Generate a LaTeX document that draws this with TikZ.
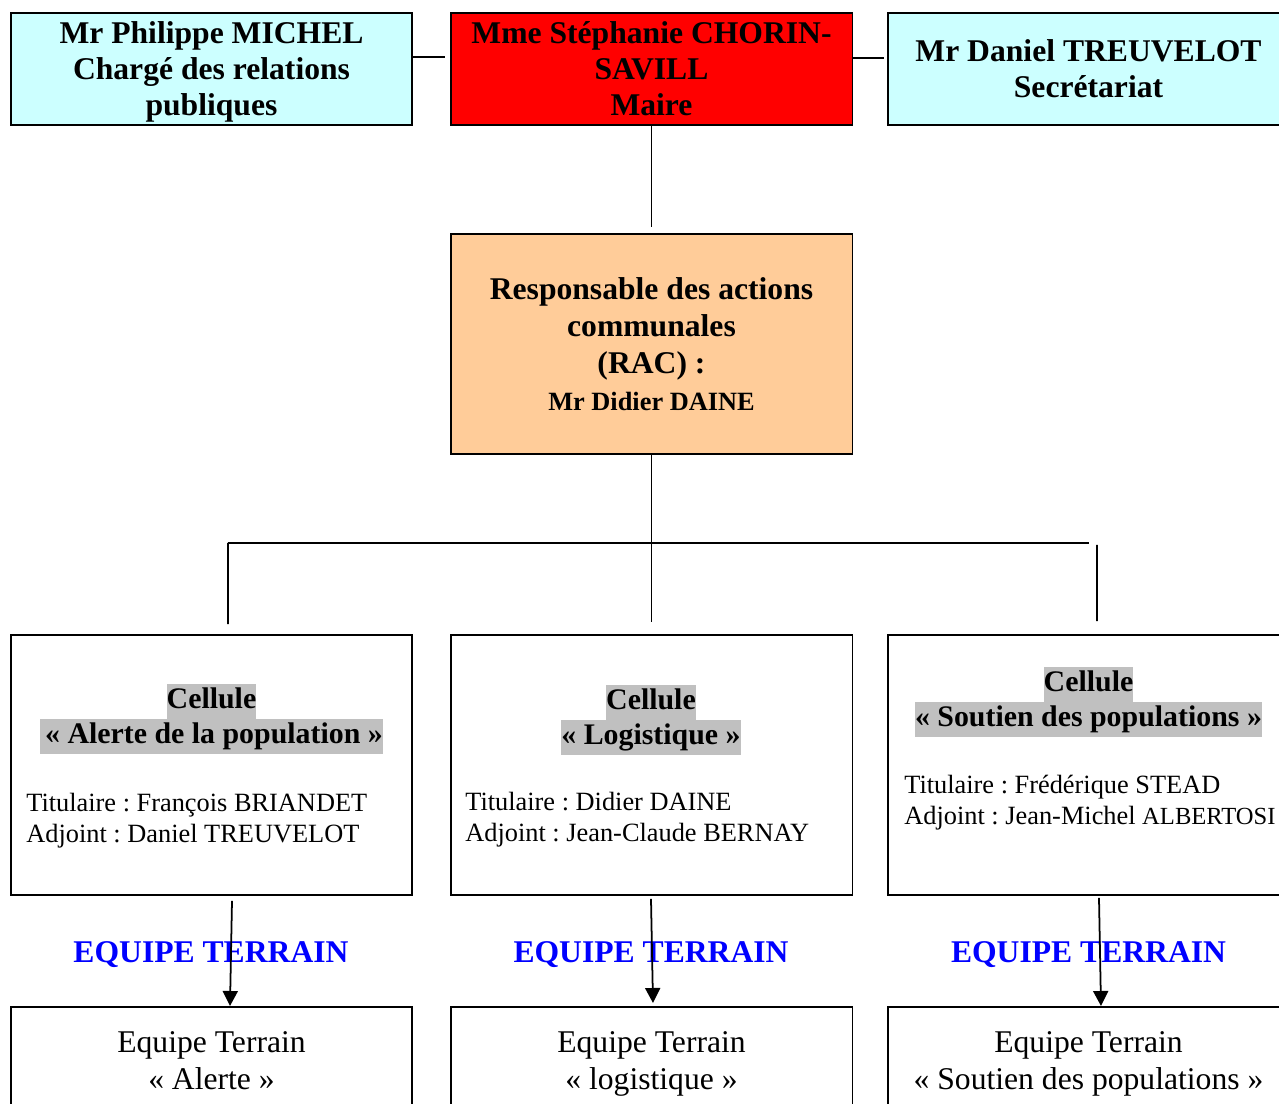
\documentclass[tikz,border=0pt]{standalone}
\usepackage{fontspec}
\setmainfont{Liberation Serif}
\usetikzlibrary{calc,arrows.meta}

\definecolor{cyanbg}{HTML}{CCFFFF}
\definecolor{rougebg}{HTML}{FF0000}
\definecolor{orangebg}{HTML}{FFCC99}
\definecolor{hlgray}{HTML}{C0C0C0}
\definecolor{bleuequipe}{HTML}{0000FF}

\newcommand{\hl}[1]{{\setlength{\fboxsep}{0pt}\colorbox{hlgray}{\strut #1}}}
\frenchspacing

\begin{document}
\begin{tikzpicture}[x=0.02cm,y=-0.02cm,
    box/.style={draw,line width=1.1pt,minimum width=8.04cm,inner sep=0pt},
    topbox/.style={box,minimum height=2.24cm,align=center,text depth=0pt,
      font=\fontsize{18}{20.5}\selectfont\bfseries},
    cellbox/.style={box,minimum height=5.2cm},
    titre/.style={align=center,inner sep=0pt,font=\fontsize{17}{20}\selectfont\bfseries},
    membres/.style={align=left,inner sep=0pt,anchor=west,font=\fontsize{15}{17.6}\selectfont},
    equipe/.style={text=bleuequipe,font=\fontsize{18}{20}\selectfont\bfseries},
    basbox/.style={box,anchor=north,align=center,inner ysep=14pt,
      font=\fontsize{18}{21}\selectfont},
    lien/.style={line width=1pt},
    fleche/.style={line width=1pt,-{Triangle[width=0.3cm,length=0.3cm]}}]
    % Frame of the page
    \useasboundingbox (0,0) rectangle (1279,1104);
    \clip (0,0) rectangle (1279,1104);

    % Top row
    \node[topbox,fill=cyanbg] (michel) at (211.5,69) {Mr Philippe MICHEL\\Chargé des relations\\publiques};
    \node[topbox,fill=rougebg] (maire) at (651.5,69) {Mme Stéphanie CHORIN-\\SAVILL\\Maire};
    \node[topbox,fill=cyanbg] (secr) at (1088.5,69) {Mr Daniel TREUVELOT\\Secrétariat};

    \draw[lien] ($(michel.east)+(0,-12)$) -- ($(maire.west)+(-5,-12)$);
    \draw[lien] ($(maire.east)+(0,-11)$) -- ($(secr.west)+(-3,-11)$);

    % RAC
    \node[box,minimum height=4.4cm,fill=orangebg,align=center,text depth=0pt,
      font=\fontsize{18}{21}\selectfont\bfseries] (rac) at (651.5,344)
      {Responsable des actions\\communales\\(RAC) :\\{\fontsize{15}{17}\selectfont Mr Didier DAINE}};
    \draw[lien] (maire.south) -- ($(rac.north)+(0,-6)$);

    % Cells
    \node[cellbox] (alerte) at (211.5,765) {};
    \node[cellbox] (logi) at (651.5,765) {};
    \node[cellbox] (soutien) at (1088.5,765) {};

    \node[titre] (alerteH) at (211.5,719) {\hl{Cellule}\\\hl{\,« Alerte de la population »}};
    \node[titre] (logiH) at (651,720) {\hl{Cellule}\\\hl{« Logistique »}};
    \node[titre] (soutienH) at (1088.5,702) {\hl{Cellule}\\\hl{« Soutien des populations »}};

    \node[membres] (alerteM) at (26,821) {Titulaire : François BRIANDET\\Adjoint : Daniel TREUVELOT};
    \node[membres] (logiM) at (465,819.5) {Titulaire : Didier DAINE\\Adjoint : Jean-Claude BERNAY};
    \node[membres] (soutienM) at (904,802.5) {Titulaire : Frédérique STEAD\\Adjoint : Jean-Michel {\fontsize{14}{17.6}\selectfont ALBERTOSI}};

    % Bus between RAC and cells
    \coordinate (busL) at (228,543);
    \coordinate (busR) at (1089,543);
    \coordinate (dropR) at (1097,545);
    \draw[lien] (busL) -- (busR);
    \draw[lien] (rac.south) -- ($(logi.north)+(0,-12)$);
    \draw[lien] (busL) -- ($(alerte.north)+(16.5,-10)$);
    \draw[lien] (dropR) -- ($(soutien.north)+(8.5,-13)$);

    % Field teams
    \node[equipe] (lblA) at (211,955) {EQUIPE TERRAIN};
    \node[equipe] (lblL) at (651,955) {EQUIPE TERRAIN};
    \node[equipe] (lblS) at (1088.5,955) {EQUIPE TERRAIN};

    \node[basbox] (alerteE) at (211.5,1006) {Equipe Terrain\\« Alerte »};
    \node[basbox] (logiE) at (651.5,1006) {Equipe Terrain\\« logistique »};
    \node[basbox] (soutienE) at (1088.5,1006) {Equipe Terrain\\« Soutien des populations »};

    \draw[fleche] ($(alerte.south)+(20.5,5)$) -- ($(alerteE.north)+(18.5,0)$);
    \draw[fleche] ($(logi.south)+(-0.5,3)$) -- ($(logiE.north)+(1.5,-3)$);
    \draw[fleche] ($(soutien.south)+(10.5,2)$) -- ($(soutienE.north)+(12.5,0)$);
\end{tikzpicture}
\end{document}
